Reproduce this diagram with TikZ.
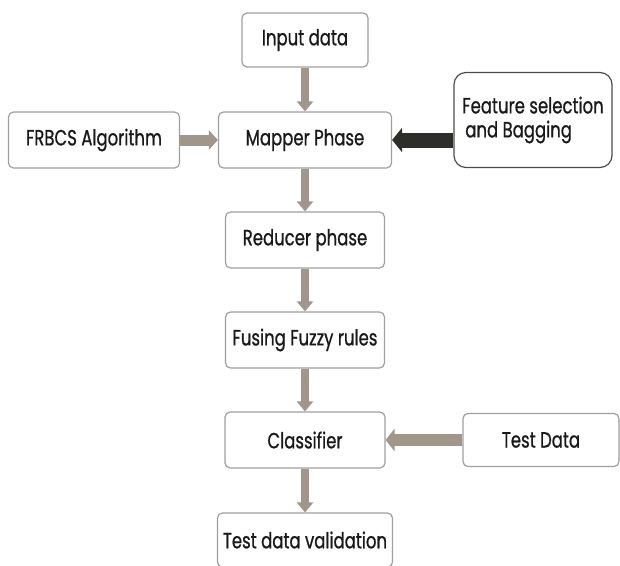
\documentclass[tikz,border=0pt]{standalone}
\usepackage{fontspec}
\setmainfont{Poppins}[FakeStretch=0.75,FakeBold=0.8]
\usetikzlibrary{arrows.meta}
\definecolor{shaftgrey}{RGB}{160,150,138}
\definecolor{shaftdark}{RGB}{45,45,42}

\begin{document}
\begin{tikzpicture}[x=1pt,y=-1pt,
    box/.style={draw=gray!75,line width=1.2pt,rounded corners=5pt,fill=white,minimum height=56pt,font=\fontsize{22}{24}\selectfont,text=black!90},
    link/.style={draw=shaftgrey,line width=8pt,-{Triangle[width=16pt,length=10pt]}},
    node distance = 100pt]
          \useasboundingbox (0,0) rectangle (620,565);
          \node[box,minimum width=126pt,minimum height=54pt](input) at (305,40) {Input data};
          \node[box,minimum width=173pt](mapper)     [below of = input]  {Mapper Phase};
          \node[box,minimum width=159pt](reducer)    [below of = mapper] {Reducer phase};
          \node[box,minimum width=159pt](fusing)     [below of = reducer] {Fusing Fuzzy rules};
          \node[box,minimum width=160pt](classifier) [below of = fusing] {Classifier};
          \node[box,minimum width=175pt,minimum height=54pt](validation) [below of = classifier] {Test data validation};
          \node[box,minimum width=171pt](frbcs)      [left of = mapper, node distance = 211pt] {FRBCS Algorithm};
          \node[box,minimum width=158pt,minimum height=95pt,rounded corners=12pt,draw=gray!60!black,align=left](feature) [right of = mapper, node distance = 228pt, yshift=20pt] {Feature selection\\\hspace{3pt}and Bagging};
          \node[box,minimum width=156pt,minimum height=53pt](testdata) [right of = classifier, node distance = 236pt] {Test Data};
          \coordinate (fs) at (feature.west |- mapper.east);
        \path
          (input) edge[link] (mapper)
          (mapper) edge[link] (reducer)
          (reducer) edge[link] (fusing)
          (fusing) edge[link] (classifier)
          (classifier) edge[link] (validation)
          (frbcs) edge[link,line width=11pt,-{Triangle[width=19pt,length=9pt]}] (mapper)
          (fs) edge[link,draw=shaftdark,line width=15pt,-{Triangle[width=24pt,length=10pt]}] (mapper)
          (testdata) edge[link,line width=12pt,-{Triangle[width=22pt,length=9pt]}] (classifier)
          ;
      \end{tikzpicture}
\end{document}
